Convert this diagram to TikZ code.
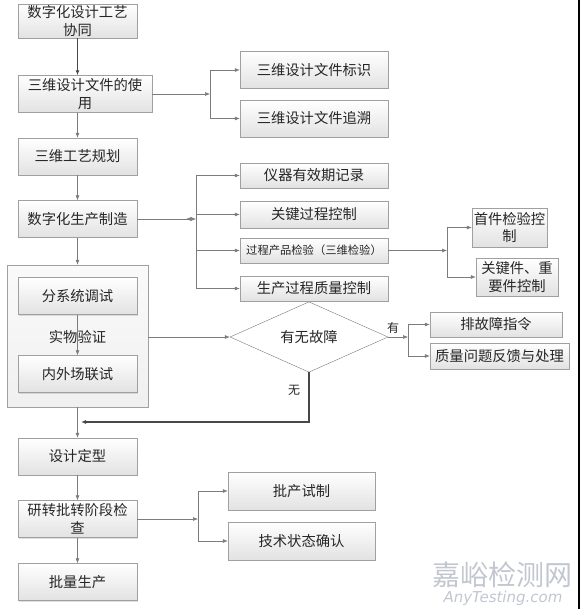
\documentclass[tikz,border=0pt]{standalone}
\usepackage{fontspec}
\usepackage{tikz}
\usetikzlibrary{arrows.meta,shapes.geometric,shadows}
\newfontfamily\cjk{Noto Sans CJK SC}
\newfontfamily\wmfont{DejaVu Sans}
\definecolor{rim}{HTML}{A0A0A0}
\definecolor{wire}{HTML}{7C7C7C}
\definecolor{ink}{HTML}{262626}
\definecolor{shade}{HTML}{E2E2E2}
\definecolor{wmark}{HTML}{C2C6D0}

\begin{document}
\begin{tikzpicture}[x=1pt,y=-1pt,font=\cjk\fontsize{14.3}{17.5}\selectfont,
    box/.style={draw=rim,top color=white,bottom color=shade,text=ink,align=center,inner sep=1pt,
      minimum width=119pt,minimum height=37pt,drop shadow={shadow xshift=1pt,shadow yshift=-1pt,opacity=.25,fill=gray}},
    side/.style={box,minimum width=148pt,minimum height=25pt},
    group/.style={draw=rim,top color=gray!4,bottom color=gray!12,minimum width=141pt,minimum height=142pt,inner sep=0pt},
    ask/.style={diamond,draw=wire,fill=white,text=ink,minimum width=158pt,minimum height=50pt,inner sep=0pt},
    conn/.style={draw=wire,line width=0.6pt,-{Latex[length=5pt,width=4pt]}},
    heavy/.style={conn,line width=1.3pt,draw=ink!85},
    wm/.style={text=wmark,inner sep=0pt}]
        \useasboundingbox (0,0) rectangle (580,609);
        \fill[black] (578,0) rectangle (580,609);
        % main column
        \node[box,minimum height=34pt] (n1) at (77.5,21) {数字化设计工艺\\协同};
        \node[box,minimum width=134pt] (n2) at (85,94) {三维设计文件的使\\用};
        \node[box] (n3) at (77.5,156.5) {三维工艺规划};
        \node[box] (n4) at (77.5,219) {数字化生产制造};
        \node[group] (grp) at (77.5,336) {};
        \node[box] (n5) at (77.5,296) {分系统调试};
        \node[box] (n6) at (77.5,374) {内外场联试};
        \draw[conn] (n5) -- (n6);
        \node[text=ink] (lab) at (77.5,337) {实物验证};
        \node[box] (n7) at (77.5,456.5) {设计定型};
        \node[box] (n8) at (77.5,519) {研转批转阶段检\\查};
        \node[box] (n9) at (77.5,582) {批量生产};
        \node[ask] (d) at (309,337) {有无故障};
        % side boxes
        \node[box,minimum width=148pt] (r1) at (314,70) {三维设计文件标识};
        \node[box,minimum width=148pt] (r2) at (314,118.5) {三维设计文件追溯};
        \node[side] (s1) at (314,175.5) {仪器有效期记录};
        \node[side,minimum height=27pt] (s2) at (314,214.5) {关键过程控制};
        \node[side,font=\cjk\fontsize{11.3}{13}\selectfont] (s3) at (314,250.5) {过程产品检验（三维检验）};
        \node[side] (s4) at (314,288.5) {生产过程质量控制};
        \node[box,minimum width=75pt,minimum height=39pt] (t1) at (509.5,227.5) {首件检验控\\制};
        \node[box,minimum width=82pt,minimum height=38pt] (t2) at (517,277) {关键件、重\\要件控制};
        \node[side,minimum width=132pt] (u1) at (496,324.5) {排故障指令};
        \node[side,minimum width=139pt,minimum height=26pt] (u2) at (499.5,356) {质量问题反馈与处理};
        \node[box,minimum width=147pt,minimum height=38pt] (v1) at (301.5,491) {批产试制};
        \node[box,minimum width=147pt,minimum height=38pt] (v2) at (301.5,541) {技术状态确认};
        % watermark
        \node[wm,font=\cjk\fontsize{28}{30}\selectfont] (wm1) at (502,575) {嘉峪检测网};
        \node[wm,font=\wmfont\itshape\fontsize{15}{16}\selectfont] (wm2) at (503,598) {AnyTesting.com};
        % junctions
        \coordinate (j1) at (210,94);
        \coordinate (j2) at (196,219);
        \coordinate (j3) at (447,250.5);
        \coordinate (j4) at (408,337);
        \coordinate (j5) at (198,519);
        \coordinate (k1) at (309,422);
        \coordinate (k2) at (81,422);
        % connectors
        \draw[heavy] (n1.south) -- (n1.south |- n2.north);
        \draw[conn] (n3.north |- n2.south) -- (n3.north);
        \draw[conn] (n3) -- (n4);
        \draw[conn] (n4) -- (grp);
        \draw[conn] (grp) -- (n7);
        \draw[conn] (n7) -- (n8);
        \draw[conn] (n8) -- (n9);
        \draw[conn] (n2) -- (j1);
        \foreach \t in {r1,r2} {\draw[conn] (j1) |- (\t);}
        \draw[draw=wire,line width=0.6pt,-{Latex[length=5pt,width=4pt,reversed] Latex[length=5pt,width=4pt]}] (n4) -- (j2);
        \foreach \t in {s1,s2,s3,s4} {\draw[conn] (j2) |- (\t);}
        \draw[conn] (s3) -- (j3);
        \foreach \t in {t1,t2} {\draw[conn] (j3) |- (\t);}
        \draw[conn] (grp.east |- d) -- (d);
        \draw[conn] (d) -- node[pos=.25,above,text=ink,font=\cjk\fontsize{12}{14}\selectfont]{有} (j4);
        \foreach \t in {u1,u2} {\draw[conn] (j4) |- (\t);}
        \draw[heavy] (d.south) -- node[pos=.37,left=5pt,text=ink,font=\cjk\fontsize{12}{14}\selectfont]{无} (k1) -- (k2);
        \draw[conn] (n8) -- (j5);
        \foreach \t in {v1,v2} {\draw[conn] (j5) |- (\t);}
      \end{tikzpicture}
\end{document}
